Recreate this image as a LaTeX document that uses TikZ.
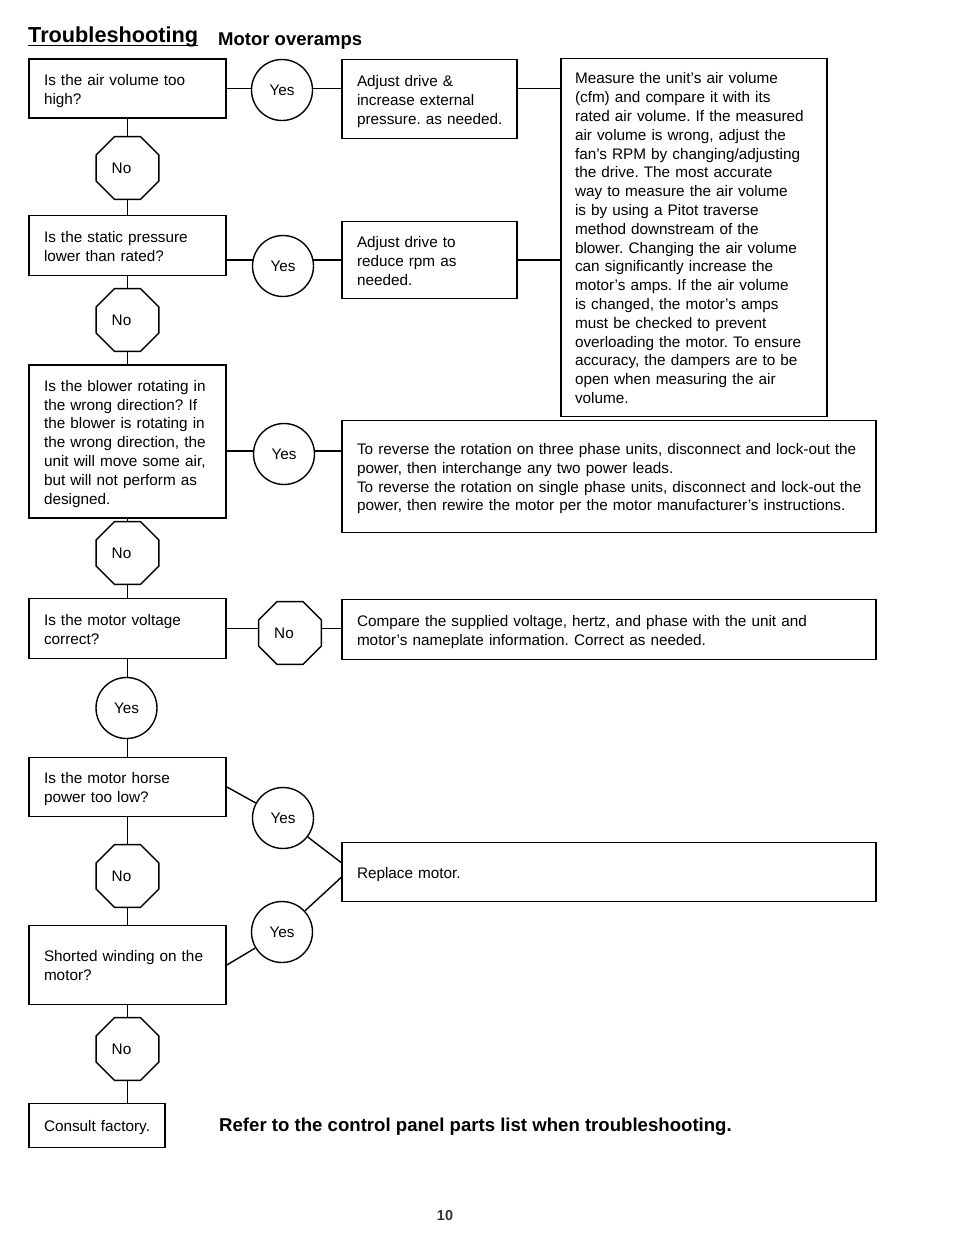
\documentclass[tikz,border=0pt]{standalone}
\usepackage{fontspec}
\setmainfont{Liberation Sans}
\usetikzlibrary{shapes.geometric,calc}
\pgfdeclarelayer{bg}
\pgfsetlayers{bg,main}
\newcommand\tabrows[1]{\raisebox{-2.5pt}[\height][\depth]{\begin{tabular}{@{}l@{}}#1\end{tabular}}}
\frenchspacing
\tikzset{
  qbox/.style={draw, line width=1.8pt, rectangle, inner xsep=15pt, inner ysep=0pt,
    align=left, font=\fontsize{15.3}{18.8}\selectfont\frenchspacing},
  yesc/.style={draw, circle, line width=1.4pt, fill=white, minimum size=61pt, inner sep=0pt,
    font=\fontsize{15.3}{18.8}\selectfont},
  nooct/.style={draw, regular polygon, regular polygon sides=8, line width=1.4pt, fill=white,
    minimum size=68pt, inner sep=0pt, font=\fontsize{15.3}{18.8}\selectfont},
  conn/.style={line width=1.4pt},
}
\begin{document}
\begin{tikzpicture}[x=1pt,y=-1pt]
\useasboundingbox (0,0) rectangle (954,1235);
% headings
\node[anchor=base west, inner sep=0pt, font=\bfseries\fontsize{21.7}{24}\selectfont] (title) at (28,42.5) {Troubleshooting};
\draw[line width=1.8pt] ([yshift=-3pt]title.base west) -- ([yshift=-3pt]title.base east);
\node[anchor=base west, inner sep=0pt, font=\bfseries\fontsize{18.5}{22}\selectfont] (sub) at (218,45) {Motor overamps};
% left column questions
\node[qbox, minimum width=197pt, minimum height=59pt, text width=167pt] (b1) at (127.5,88.5) {\tabrows{Is the air volume too\\high?}};
\node[qbox, minimum width=197pt, minimum height=60pt, text width=167pt] (b2) at (127.5,245.5) {\tabrows{Is the static pressure\\lower than rated?}};
\node[qbox, minimum width=197pt, minimum height=153pt, text width=167pt] (b3) at (127.5,441.5) {\tabrows{Is the blower rotating in\\the wrong direction? If\\the blower is rotating in\\the wrong direction, the\\unit will move some air,\\but will not perform as\\designed.}};
\node[qbox, minimum width=197pt, minimum height=60pt, text width=167pt] (b4) at (127.5,628.5) {\tabrows{Is the motor voltage\\correct?}};
\node[qbox, minimum width=197pt, minimum height=59pt, text width=167pt] (b5) at (127.5,787) {\tabrows{Is the motor horse\\power too low?}};
\node[qbox, minimum width=197pt, minimum height=79pt, text width=167pt] (b6) at (127.5,965) {\tabrows{Shorted winding on the\\motor?}};
\node[qbox, minimum width=136pt, minimum height=44pt, text width=106pt] (b7) at (97,1125.5) {\tabrows{Consult factory.}};
% right column actions
\node[qbox, minimum width=175pt, minimum height=79pt, text width=145pt] (a1) at (429.5,99) {\tabrows{Adjust drive \&\\increase external\\pressure. as needed.}};
\node[qbox, minimum width=175pt, minimum height=77pt, text width=145pt] (a2) at (429.5,260) {\tabrows{Adjust drive to\\reduce rpm as\\needed.}};
\node[qbox, inner xsep=14pt, minimum width=266pt, minimum height=358pt, text width=238pt] (meas) at (694,237.5) {\tabrows{Measure the unit’s air volume\\(cfm) and compare it with its\\rated air volume. If the measured\\air volume is wrong, adjust the\\fan’s RPM by changing/adjusting\\the drive. The most accurate\\way to measure the air volume\\is by using a Pitot traverse\\method downstream of the\\blower. Changing the air volume\\can significantly increase the\\motor’s amps. If the air volume\\is changed, the motor’s amps\\must be checked to prevent\\overloading the motor. To ensure\\accuracy, the dampers are to be\\open when measuring the air\\volume.}};
\node[qbox, minimum width=534pt, minimum height=112pt, text width=504pt] (rev) at (609,476.5) {\tabrows{To reverse the rotation on three phase units, disconnect and lock-out the\\power, then interchange any two power leads.\\To reverse the rotation on single phase units, disconnect and lock-out the\\power, then rewire the motor per the motor manufacturer’s instructions.}};
\node[qbox, minimum width=534pt, minimum height=60pt, text width=504pt] (cmp) at (609,629.5) {\tabrows{Compare the supplied voltage, hertz, and phase with the unit and\\motor’s nameplate information. Correct as needed.}};
\node[qbox, minimum width=534pt, minimum height=59pt, text width=504pt] (rep) at (609,872) {\tabrows{Replace motor.}};
% yes / no markers
\node[yesc] (y1) at (282,90) {Yes};
\node[yesc] (y2) at (283,266) {Yes};
\node[yesc] (y3) at (284,454) {Yes};
\node[yesc] (y4) at (126.5,708) {Yes};
\node[yesc] (y5) at (283,818) {Yes};
\node[yesc] (y6) at (282,932) {Yes};
\node[nooct] (n1) at (127.5,168) {No\hspace*{12pt}};
\node[nooct] (n2) at (127.5,320) {No\hspace*{12pt}};
\node[nooct] (n3) at (127.5,553) {No\hspace*{12pt}};
\node[nooct] (n4) at (290,633) {No\hspace*{12pt}};
\node[nooct] (n5) at (127.5,876) {No\hspace*{12pt}};
\node[nooct] (n6) at (127.5,1049) {No\hspace*{12pt}};
\coordinate (r3) at (0,451);
% connectors behind the markers
\begin{pgfonlayer}{bg}
\draw[conn] (b1.east) -- (b1.east -| a1.west);
\draw[conn] (a1.east |- b1.east) -- (meas.west |- b1.east);
\draw[conn] (a2.west -| b2.east) -- (a2.west);
\draw[conn] (a2.east) -- (a2.east -| meas.west);
\draw[conn] (b3.east |- r3) -- (rev.west |- r3);
\draw[conn] (b4.east) -- (b4.east -| cmp.west);
\draw[conn] (b1.south) -- (b2.north);
\draw[conn] (b2.south) -- (b3.north);
\draw[conn] (b3.south) -- (b4.north);
\draw[conn] (b4.south) -- (b5.north);
\draw[conn] (b5.south) -- (b6.north);
\draw[conn] (n6 |- b6.south) -- (n6 |- b7.north);
\end{pgfonlayer}
\draw[conn] (b5.east) -- (y5) -- ($(rep.west)+(0,-9.5)$);
\draw[conn] (b6.east) -- (y6) -- ($(rep.west)+(0,5.5)$);
% footer
\node[anchor=base west, inner sep=0pt, font=\bfseries\fontsize{18.6}{22}\selectfont] (note) at (219,1131) {Refer to the control panel parts list when troubleshooting.};
\node[anchor=base, inner sep=0pt, text=black!80, font=\bfseries\fontsize{14.4}{17}\selectfont] (page) at (445,1220) {10};
\end{tikzpicture}
\end{document}
